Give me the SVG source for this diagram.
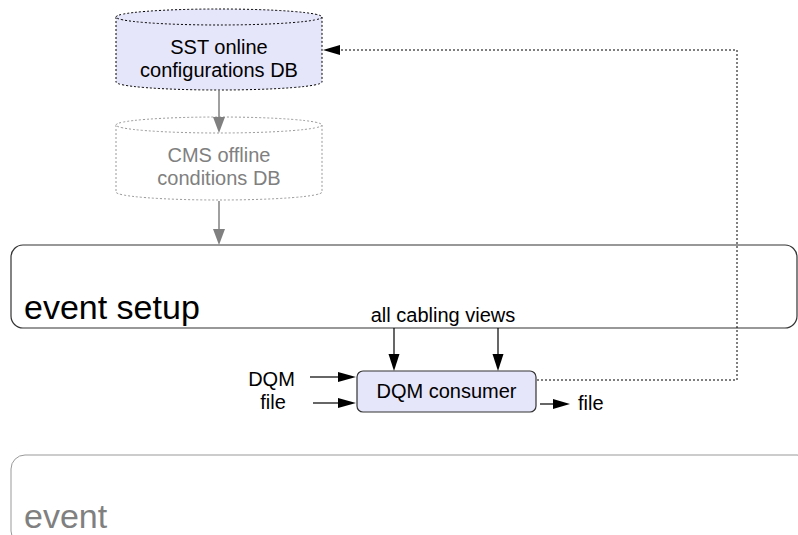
<svg xmlns="http://www.w3.org/2000/svg" width="798" height="535" viewBox="0 0 798 535">
<style>
text{font-family:"Liberation Sans",Arial,sans-serif;font-size:20px;fill:#000}
.big{font-size:34px}
.grey{fill:#808080}
.db{fill:#e6e6fa;stroke:#000;stroke-width:1;stroke-dasharray:2,2}
.dbg{fill:#fff;stroke:#999;stroke-width:1;stroke-dasharray:2,2}
.ln{stroke:#000;stroke-width:1.2;fill:none}
.lng{stroke:#808080;stroke-width:1.5;fill:none}
.dot{stroke:#000;stroke-width:1;fill:none;stroke-dasharray:2,2}
</style>
<g id="event">
<rect x="11" y="455" width="800" height="90" rx="14" fill="#fff" stroke="#999" stroke-width="1"/>
<text class="big grey" x="24" y="528">event</text>
</g>
<g id="event-setup">
<rect x="11" y="245" width="786" height="83" rx="12" fill="#fff" stroke="#333" stroke-width="1.2"/>
<text class="big" x="24" y="319">event setup</text>
<text x="443" y="322" text-anchor="middle">all cabling views</text>
</g>
<g id="sst-db">
<path class="db" d="M116,17 V82 A103,8 0 0 0 322,82 V17"/>
<ellipse class="db" cx="219" cy="17" rx="103" ry="8"/>
<text x="219" y="54" text-anchor="middle">SST online</text>
<text x="219" y="77" text-anchor="middle">configurations DB</text>
</g>
<g id="cms-db">
<path class="dbg" d="M116,125 V192 A103,8 0 0 0 322,192 V125"/>
<ellipse class="dbg" cx="219" cy="125" rx="103" ry="8"/>
<text class="grey" x="219" y="162" text-anchor="middle">CMS offline</text>
<text class="grey" x="219" y="185" text-anchor="middle">conditions DB</text>
</g>
<g id="dqm-consumer">
<rect x="357" y="371" width="179" height="41" rx="6" fill="#e6e6fa" stroke="#333" stroke-width="1.2"/>
<text x="446.5" y="398" text-anchor="middle">DQM consumer</text>
</g>
<g id="inputs">
<text x="271.5" y="386" text-anchor="middle">DQM</text>
<text x="273" y="409" text-anchor="middle">file</text>
<text x="578" y="410">file</text>
</g>
<g id="connectors">
<line class="lng" x1="219" y1="90" x2="219" y2="118"/>
<polygon points="213,117 225,117 219,133" fill="#808080"/>
<line class="lng" x1="219" y1="201" x2="219" y2="230"/>
<polygon points="213,229 225,229 219,245" fill="#808080"/>
<line class="ln" x1="394" y1="328" x2="394" y2="355"/>
<polygon points="388.5,354 399.5,354 394,371" fill="#000"/>
<line class="ln" x1="498" y1="328" x2="498" y2="355"/>
<polygon points="492.5,354 503.5,354 498,371" fill="#000"/>
<line class="ln" x1="310" y1="377" x2="340" y2="377"/>
<polygon points="338,372 338,382 356,377" fill="#000"/>
<line class="ln" x1="313" y1="403" x2="340" y2="403"/>
<polygon points="338,398 338,408 356,403" fill="#000"/>
<line class="ln" x1="540" y1="404" x2="555" y2="404"/>
<polygon points="553,399 553,409 570,404" fill="#000"/>
<path class="dot" d="M537,380 H737 V50 H338"/>
<polygon points="323,50 340,45 340,55" fill="#000"/>
</g>
</svg>
